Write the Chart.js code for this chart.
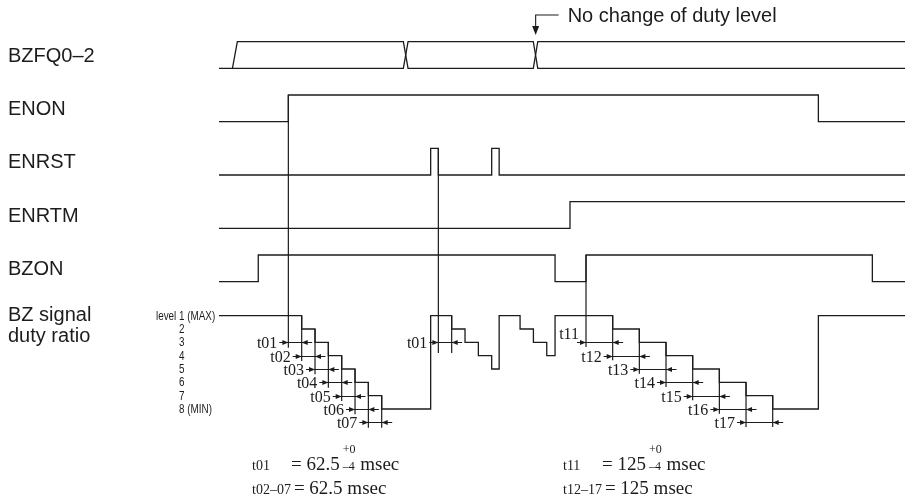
<!DOCTYPE html>
<html>
<head>
<meta charset="utf-8">
<script src="https://cdn.jsdelivr.net/npm/chart.js@4.4.1/dist/chart.umd.min.js"></script>
<style>
  html, body { margin: 0; padding: 0; background: #fff; }
  #wrap { width: 910px; height: 504px; }
</style>
</head>
<body>
<div id="wrap"><canvas id="chart"></canvas></div>
<script>
// time axis in msec, 0 = ENON rising edge
const signalNames = ['BZFQ0–2', 'ENON', 'ENRST', 'ENRTM', 'BZON'];

// BZFQ0-2 is drawn as two crossing rails
const bzfqTimesA  = [-325, -262, -239, 539, 561, 1148, 1169, 2890];
const bzfqLevelsA = [0, 0, 1, 1, 0, 0, 1, 1];
const bzfqTimesB  = [-262, 539, 561, 1148, 1169, 2890];
const bzfqLevelsB = [0, 0, 1, 1, 0, 0];
const noChangeAt = 1159;

// edges: at each time the signal takes the new level
const enonTimes   = [-325, 0, 2484, 2890];
const enonLevels  = [0, 1, 0, 0];
const enrstTimes  = [-325, 667, 703, 953, 988, 2890];
const enrstLevels = [0, 1, 0, 1, 0, 0];
const enrtmTimes  = [-325, 1320, 2890];
const enrtmLevels = [0, 1, 1];
const bzonTimes   = [-325, -141, 1250, 1395, 2737, 2890];
const bzonLevels  = [0, 1, 0, 1, 0, 0];

// BZ signal duty level (1 = MAX ... 8 = MIN)
const dutyTimes  = [-325, 62.5, 125, 187.5, 250, 312.5, 375, 437.5, 667, 765.5, 828, 890.5, 953, 988,
                    1086, 1148.5, 1211, 1250, 1520, 1645, 1770, 1895, 2020, 2145, 2270, 2484, 2890];
const dutyLevels = [1, 2, 3, 4, 5, 6, 7, 8, 1, 2, 3, 4, 5, 1,
                    2, 3, 4, 1, 2, 3, 4, 5, 6, 7, 8, 1, 1];
const dutyTicks = ['1', '2', '3', '4', '5', '6', '7', '8'];
const dutyNotes = ['(MAX)', '', '', '', '', '', '', '(MIN)'];

// timing marks
const dimLeftTimes   = [0, 62.5, 125, 187.5, 250, 312.5, 375, 437.5];
const dimLeftLabels  = ['t01', 't02', 't03', 't04', 't05', 't06', 't07'];
const dimMidTimes    = [703, 765.5];
const dimMidLabels   = ['t01'];
const dimRightTimes  = [1395, 1520, 1645, 1770, 1895, 2020, 2145, 2270];
const dimRightLabels = ['t11', 't12', 't13', 't14', 't15', 't16', 't17'];

// notes under the chart
const noteNames  = [['t01', 't11'], ['t02–07', 't12–17']];
const noteValues = [['62.5', '125'], ['62.5', '125']];
const noteTol    = ['+0', '–4'];

const rowLow = i => 4 + 4 * i;          // y units, reversed axis
const rowHigh = i => rowLow(i) - 2;
const dutyY = lv => 21.55 + lv;
const dimRowY = k => dutyY(3 + k);

const INK = '#1c1c1c';
const SANS = '"Liberation Sans", Arial, Helvetica, sans-serif';
const SERIF = '"Liberation Serif", "Times New Roman", serif';

function pts(times, levels, f){ return times.map((t, i) => ({ x: t, y: f(levels[i]) })); }
function levelBefore(t){
  let lv = dutyLevels[0];
  dutyTimes.forEach((d, i) => { if (d < t) lv = dutyLevels[i]; });
  return lv;
}

const datasets = [];
function addLine(data, stepped, width){
  datasets.push({ data, stepped, borderColor: INK, borderWidth: width || 1.3, pointRadius: 0, fill: false, tension: 0 });
}
addLine(pts(bzfqTimesA, bzfqLevelsA, v => rowLow(0) - 2 * v), false);
addLine(pts(bzfqTimesB, bzfqLevelsB, v => rowLow(0) - 2 * v), false);
addLine(pts(enonTimes, enonLevels, v => rowLow(1) - 2 * v), true);
addLine(pts(enrstTimes, enrstLevels, v => rowLow(2) - 2 * v), true);
addLine(pts(enrtmTimes, enrtmLevels, v => rowLow(3) - 2 * v), true);
addLine(pts(bzonTimes, bzonLevels, v => rowLow(4) - 2 * v), true);
addLine(pts(dutyTimes, dutyLevels, dutyY), true);

const dimGroups = [
  { times: dimLeftTimes, labels: dimLeftLabels, fromRow: 1, tail: 0.4, lift: 0 },
  { times: dimMidTimes, labels: dimMidLabels, fromRow: 2, tail: 0.8, lift: 0 },
  { times: dimRightTimes, labels: dimRightLabels, fromRow: 4, tail: 0.35, lift: 9 }
];
dimGroups.forEach(g => {
  g.times.forEach((t, j) => {
    const top = j === 0 ? rowHigh(g.fromRow) : dutyY(levelBefore(t));
    const bottom = dimRowY(Math.min(j, g.labels.length - 1)) + g.tail;
    addLine([{ x: t, y: top }, { x: t, y: bottom }], false, 1.2);
  });
});

function arrowHead(ctx, x, y, dir){
  ctx.beginPath();
  ctx.moveTo(x, y);
  ctx.lineTo(x - dir * 6, y - 2.5);
  ctx.lineTo(x - dir * 6, y + 2.5);
  ctx.closePath();
  ctx.fill();
}

// narrow text, like the condensed face of the original
function narrowText(ctx, s, x, y, align){
  ctx.save();
  ctx.translate(x, y);
  ctx.scale(0.76, 1);
  ctx.textAlign = align;
  ctx.fillText(s, 0, 0);
  ctx.restore();
}

const overlay = {
  id: 'overlay',
  afterDraw(chart){
    const { ctx, scales: { x, y } } = chart;
    const px = t => x.getPixelForValue(t);
    const py = v => y.getPixelForValue(v);
    ctx.save();
    ctx.fillStyle = INK; ctx.strokeStyle = INK; ctx.lineWidth = 1.1;

    // signal names
    ctx.font = '20px ' + SANS;
    ctx.textAlign = 'left'; ctx.textBaseline = 'middle';
    signalNames.forEach((n, i) => ctx.fillText(n, 8, py(rowLow(i) - 1) + 1));
    ctx.fillText('BZ signal', 8, py(dutyY(1)));
    ctx.fillText('duty ratio', 8, py(dutyY(1)) + 21);

    // duty level labels
    ctx.font = '13px ' + SANS;
    const digitX = 179;
    dutyTicks.forEach((d, i) => {
      const yy = py(dutyY(i + 1)) + 0.5;
      narrowText(ctx, d + (dutyNotes[i] ? ' ' + dutyNotes[i] : ''), digitX, yy, 'left');
    });
    narrowText(ctx, 'level ', digitX, py(dutyY(1)) + 0.5, 'right');

    // timing marks
    ctx.font = '16px ' + SERIF;
    dimGroups.forEach(g => {
      g.labels.forEach((lab, k) => {
        const x0 = px(g.times[k]), x1 = px(g.times[k + 1]), yy = Math.round(py(dimRowY(k))) + 0.5;
        ctx.beginPath(); ctx.moveTo(x0 - 9, yy); ctx.lineTo(x1 + 10.5, yy); ctx.stroke();
        arrowHead(ctx, x0, yy, 1);
        arrowHead(ctx, x1, yy, -1);
        ctx.textAlign = 'right';
        const lifted = k === 0 && g.lift;
        ctx.fillText(lab, x0 - (lifted ? 7 : 11), yy + 1 - (lifted ? g.lift : 0));
      });
    });

    // "No change of duty level"
    const ax = px(noChangeAt), ay = py(0);
    ctx.beginPath(); ctx.moveTo(ax + 23, ay); ctx.lineTo(ax, ay); ctx.lineTo(ax, py(1.5) - 6); ctx.stroke();
    ctx.beginPath(); ctx.moveTo(ax, py(1.5)); ctx.lineTo(ax - 3.5, py(1.5) - 9); ctx.lineTo(ax + 3.5, py(1.5) - 9); ctx.closePath(); ctx.fill();
    ctx.font = '20px ' + SANS; ctx.textAlign = 'left';
    ctx.fillText('No change of duty level', ax + 32, ay + 1);

    // notes
    ctx.textBaseline = 'alphabetic';
    const colX = [252, 563], baseY = [470, 494];
    noteNames.forEach((row, r) => {
      row.forEach((name, c) => {
        let xx = colX[c];
        ctx.textAlign = 'left';
        ctx.font = '14px ' + SERIF;
        ctx.fillText(name, xx, baseY[r]);
        xx = r === 0 ? xx + 39 : xx + ctx.measureText(name).width + 3;
        ctx.font = '19px ' + SERIF;
        const s = '= ' + noteValues[r][c];
        ctx.fillText(s, xx, baseY[r]);
        xx += ctx.measureText(s).width;
        if (r === 0) {
          xx += 3;
          ctx.font = '12px ' + SERIF;
          ctx.fillText(noteTol[0], xx, baseY[r] - 17);
          ctx.fillText(noteTol[1], xx, baseY[r]);
          xx += Math.max(ctx.measureText(noteTol[0]).width, ctx.measureText(noteTol[1]).width);
        }
        ctx.font = '19px ' + SERIF;
        ctx.fillText(' msec', xx, baseY[r]);
      });
    });
    ctx.restore();
  }
};

new Chart(document.getElementById('chart'), {
  type: 'line',
  data: { datasets },
  options: {
    responsive: true,
    maintainAspectRatio: false,
    animation: false,
    events: [],
    layout: { autoPadding: false, padding: { left: 219, right: 5, top: 15, bottom: 9 } },
    plugins: { legend: { display: false }, tooltip: { enabled: false } },
    scales: {
      x: { type: 'linear', min: -325, max: 2890, display: false },
      y: { type: 'linear', min: 0, max: 36, reverse: true, display: false }
    }
  },
  plugins: [overlay]
});
</script>
</body>
</html>
